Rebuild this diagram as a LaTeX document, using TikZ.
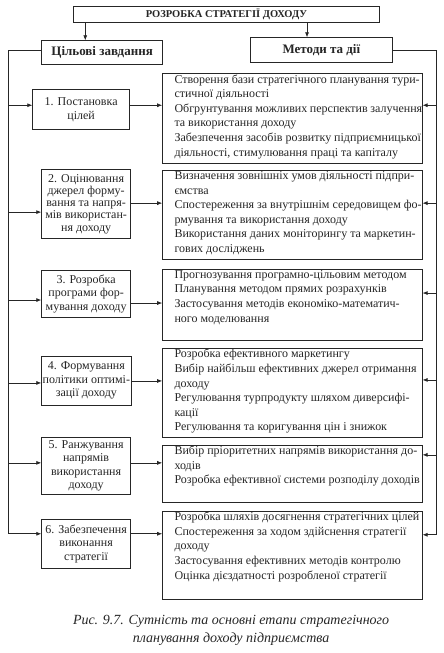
\documentclass[tikz,border=0pt]{standalone}
\usepackage{fontspec}
\setmainfont{Liberation Serif}
\usetikzlibrary{arrows.meta}
\newcommand\mtext[2]{\parbox[c][#1pt][t]{260pt}{\fontsize{12}{14.6}\selectfont\vspace*{1pt}\leftskip=12pt\relax #2\par}}
\begin{document}
\begin{tikzpicture}[x=1pt,y=-1pt,
  every path/.style={line width=0.7pt, draw=black!85},
  arr/.style={-{Latex[length=5pt,width=4pt]}},
  lbox/.style={draw, align=center, inner sep=1pt, anchor=north west, text=black!85, font=\fontsize{12}{13.5}\selectfont},
  rbox/.style={draw, inner sep=0pt, anchor=north west, text=black!85},
  hbox/.style={draw, inner sep=0pt, anchor=north west, text=black!85, font=\bfseries\fontsize{13}{15}\selectfont}]
\useasboundingbox (0,0) rectangle (443,653);
\fill[white] (0,0) rectangle (443,653);
% title and headers
\node[hbox, minimum width=306pt, minimum height=16pt, font=\bfseries\fontsize{10.5}{12}\selectfont] (top) at (73,6) {РОЗРОБКА СТРАТЕГІЇ ДОХОДУ};
\node[hbox, minimum width=121pt, minimum height=24pt] (lh) at (41,40) {Цільові завдання};
\node[hbox, minimum width=142pt, minimum height=25pt] (rh) at (250,37) {Методи та дії};
\draw[arr] (top.south -| 85,0) -- (lh.north -| 85,0);
\draw[arr] (top.south -| 307,0) -- (rh.north -| 307,0);
% left boxes
\node[lbox, minimum width=97pt, minimum height=40pt] (b1) at (32,89) {1. Постановка\\цілей};
\node[lbox, minimum width=89pt, minimum height=69pt, font=\fontsize{12}{12.2}\selectfont] (b2) at (41,169) {2. Оцінювання\\джерел форму-\\вання та напря-\\мів використан-\\ня доходу};
\node[lbox, minimum width=89pt, minimum height=47pt] (b3) at (41,270) {3. Розробка\\програми фор-\\мування доходу};
\node[lbox, minimum width=89pt, minimum height=49pt] (b4) at (41,356) {4. Формування\\політики оптимі-\\зації доходу};
\node[lbox, minimum width=89pt, minimum height=57pt] (b5) at (41,437) {5. Ранжування\\напрямів\\використання\\доходу};
\node[lbox, minimum width=89pt, minimum height=49pt] (b6) at (41,519) {6. Забезпечення\\виконання\\стратегії};
% right boxes
\node[rbox] (r1) at (162,73) {\mtext{90}{Створення бази стратегічного планування тури-\\стичної діяльності\\Обгрунтування можливих перспектив залучення\\та використання доходу\\Забезпечення засобів розвитку підприємницької\\діяльності, стимулювання праці та капіталу}};
\node[rbox] (r2) at (162,170) {\mtext{89}{Визначення зовнішніх умов діяльності підпри-\\ємства\\Спостереження за внутрішнім середовищем фо-\\рмування та використання доходу\\Використання даних моніторингу та маркетин-\\гових досліджень}};
\node[rbox] (r3) at (162,269) {\mtext{71}{Прогнозування програмно-цільовим методом\\Планування методом прямих розрахунків\\Застосування методів економіко-математич-\\ного моделювання}};
\node[rbox] (r4) at (162,348) {\mtext{89}{Розробка ефективного маркетингу\\Вибір найбільш ефективних джерел отримання\\доходу\\Регулювання турпродукту шляхом диверсифі-\\кації\\Регулювання та коригування цін і знижок}};
\node[rbox] (r5) at (162,445) {\mtext{57}{Вибір пріоритетних напрямів використання до-\\ходів\\Розробка ефективної системи розподілу доходів}};
\node[rbox] (r6) at (162,511) {\mtext{88}{Розробка шляхів досягнення стратегічних цілей\\Спостереження за ходом здійснення стратегії\\доходу\\Застосування ефективних методів контролю\\Оцінка дієздатності розробленої стратегії}};
% left trunk
\coordinate (L0) at (8,50);
\coordinate (L1) at (8,105);
\coordinate (L2) at (8,212);
\coordinate (L3) at (8,300);
\coordinate (L4) at (8,383);
\coordinate (L5) at (8,463);
\coordinate (L6) at (8,534);
\draw (lh.west |- L0) -- (L0) -- (L6);
\draw[arr] (L1) -- (L1 -| b1.west);
\draw[arr] (L2) -- (L2 -| b2.west);
\draw[arr] (L3) -- (L3 -| b3.west);
\draw[arr] (L4) -- (L4 -| b4.west);
\draw[arr] (L5) -- (L5 -| b5.west);
\draw[arr] (L6) -- (L6 -| b6.west);
% right trunk
\coordinate (R0) at (436,50);
\coordinate (R1) at (436,105);
\coordinate (R2) at (436,203);
\coordinate (R3) at (436,293);
\coordinate (R4) at (436,380);
\coordinate (R5) at (436,455);
\coordinate (R6) at (436,535);
\draw (rh.east |- R0) -- (R0) -- (R6);
\draw[arr] (R1) -- (R1 -| r1.east);
\draw[arr] (R2) -- (R2 -| r2.east);
\draw[arr] (R3) -- (R3 -| r3.east);
\draw[arr] (R4) -- (R4 -| r4.east);
\draw[arr] (R5) -- (R5 -| r5.east);
\draw[arr] (R6) -- (R6 -| r6.east);
% middle arrows
\coordinate (M1) at (0,105);
\coordinate (M2) at (0,203);
\coordinate (M3) at (0,303);
\coordinate (M4) at (0,381);
\coordinate (M5) at (0,463);
\coordinate (M6) at (0,534);
\draw[arr] (M1 -| b1.east) -- (M1 -| r1.west);
\draw[arr] (M2 -| b2.east) -- (M2 -| r2.west);
\draw[arr] (M3 -| b3.east) -- (M3 -| r3.west);
\draw[arr] (M4 -| b4.east) -- (M4 -| r4.west);
\draw[arr] (M5 -| b5.east) -- (M5 -| r5.west);
\draw[arr] (M6 -| b6.east) -- (M6 -| r6.west);
% caption
\node[align=center, text=black!85, font=\itshape\fontsize{14}{18}\selectfont] (cap) at (231,631) {Рис. 9.7. Сутність та основні етапи стратегічного\\планування доходу підприємства};
\end{tikzpicture}
\end{document}
